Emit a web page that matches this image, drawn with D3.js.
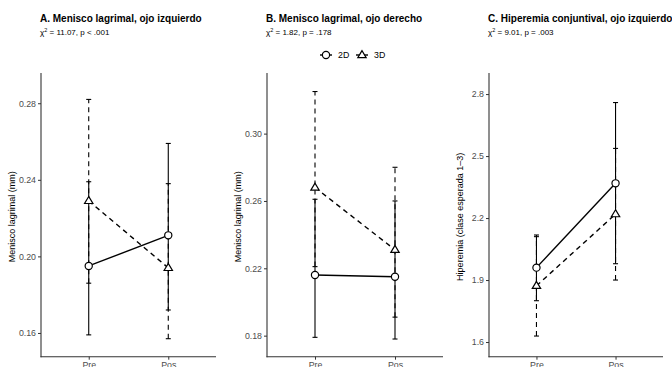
<!DOCTYPE html>
<html><head><meta charset="utf-8">
<script src="https://cdn.jsdelivr.net/npm/d3@7"></script>
<style>
body{margin:0;background:#fff;}
svg{display:block;font-family:"Liberation Sans",Arial,sans-serif;}
</style></head>
<body><svg id="chart" width="672" height="367"></svg>
<script>
const timepoints = ["Pre", "Pos"];
const groups = ["2D", "3D"];
const panelTitles = ["A. Menisco lagrimal, ojo izquierdo", "B. Menisco lagrimal, ojo derecho", "C. Hiperemia conjuntival, ojo izquierdo"];
const chiValues = ["11.07", "1.82", "9.01"];
const pValues = ["p < .001", "p = .178", "p = .003"];
const yTitles = ["Menisco lagrimal (mm)", "Menisco lagrimal (mm)", "Hiperemia (clase esperada 1\u20133)"];
const yTicksA = [0.16, 0.20, 0.24, 0.28];
const yTicksB = [0.18, 0.22, 0.26, 0.30];
const yTicksC = [1.6, 1.9, 2.2, 2.5, 2.8];
const yDomainA = [0.1476, 0.2958];
const yDomainB = [0.1675, 0.336];
const yDomainC = [1.529, 2.902];

// Panel A
const meanA2D = [0.195, 0.211], lowA2D = [0.159, 0.172], highA2D = [0.239, 0.259];
const meanA3D = [0.229, 0.194], lowA3D = [0.186, 0.157], highA3D = [0.282, 0.238];
// Panel B
const meanB2D = [0.216, 0.215], lowB2D = [0.179, 0.178], highB2D = [0.261, 0.260];
const meanB3D = [0.268, 0.231], lowB3D = [0.221, 0.191], highB3D = [0.325, 0.280];
// Panel C
const meanC2D = [1.960, 2.368], lowC2D = [1.800, 1.979], highC2D = [2.118, 2.759];
const meanC3D = [1.872, 2.219], lowC3D = [1.629, 1.900], highC3D = [2.110, 2.537];

const panels = [
  {x0: 41, x1: 216, ticks: yTicksA, dom: yDomainA, fmt: d3.format(".2f"),
   series: [{g: "2D", mean: meanA2D, low: lowA2D, high: highA2D}, {g: "3D", mean: meanA3D, low: lowA3D, high: highA3D}]},
  {x0: 267, x1: 443, ticks: yTicksB, dom: yDomainB, fmt: d3.format(".2f"),
   series: [{g: "2D", mean: meanB2D, low: lowB2D, high: highB2D}, {g: "3D", mean: meanB3D, low: lowB3D, high: highB3D}]},
  {x0: 489, x1: 663, ticks: yTicksC, dom: yDomainC, fmt: d3.format(".1f"),
   series: [{g: "2D", mean: meanC2D, low: lowC2D, high: highC2D}, {g: "3D", mean: meanC3D, low: lowC3D, high: highC3D}]}
];

const svg = d3.select("#chart");
const yTop = 73, yBot = 356.7;
const dashFor = g => g === "3D" ? "5,4" : null;

function drawShape(sel, g, cx, cy) {
  if (g === "2D") {
    sel.append("circle").attr("cx", cx).attr("cy", cy).attr("r", 3.6)
      .attr("fill", "#fff").attr("stroke", "#000").attr("stroke-width", 1.2);
  } else {
    const s = 4.4;
    const pts = [[cx, cy - s], [cx - s * 0.95, cy + s * 0.6], [cx + s * 0.95, cy + s * 0.6]];
    sel.append("path").attr("d", "M" + pts.map(p => p.join(",")).join("L") + "Z")
      .attr("fill", "#fff").attr("stroke", "#000").attr("stroke-width", 1.2);
  }
}

panels.forEach((p, i) => {
  const g = svg.append("g");
  const x = d3.scalePoint().domain(timepoints).range([p.x0, p.x1]).padding(0.6);
  const y = d3.scaleLinear().domain(p.dom).range([yBot, yTop]);

  // title & subtitle
  g.append("text").attr("x", p.x0 - 1).attr("y", 22).attr("font-weight", "bold")
    .attr("font-size", 10).attr("fill", "#000").text(panelTitles[i]);
  const st = g.append("text").attr("x", p.x0 - 1).attr("y", 35).attr("font-size", 8).attr("fill", "#000");
  st.append("tspan").text("\u03c7");
  st.append("tspan").attr("dy", -3).attr("font-size", 5.5).text("2");
  st.append("tspan").attr("dy", 3).text(" = " + chiValues[i] + ", " + pValues[i]);

  // axes
  const yAxis = d3.axisLeft(y).tickValues(p.ticks).tickFormat(p.fmt).tickSize(3).tickPadding(2);
  const ya = g.append("g").attr("transform", `translate(${p.x0},0)`).call(yAxis);
  ya.select(".domain").remove();
  ya.selectAll(".tick line").attr("stroke", "#333");
  ya.selectAll(".tick text").attr("fill", "#4d4d4d").attr("font-size", 8.8).attr("font-family", "Liberation Sans, Arial, sans-serif");
  const xAxis = d3.axisBottom(x).tickSize(3).tickPadding(2);
  const xa = g.append("g").attr("transform", `translate(0,${yBot})`).call(xAxis);
  xa.select(".domain").remove();
  xa.selectAll(".tick line").attr("stroke", "#333");
  xa.selectAll(".tick text").attr("fill", "#4d4d4d").attr("font-size", 8.8).attr("font-family", "Liberation Sans, Arial, sans-serif");
  g.append("line").attr("x1", p.x0).attr("x2", p.x0).attr("y1", yTop).attr("y2", yBot + 0.5)
    .attr("stroke", "#333").attr("stroke-width", 1.1);
  g.append("line").attr("x1", p.x0 - 0.5).attr("x2", p.x1).attr("y1", yBot).attr("y2", yBot)
    .attr("stroke", "#333").attr("stroke-width", 1.1);

  // y title
  g.append("text").attr("transform", `translate(${p.x0 - 26},${(yTop + yBot) / 2 + 2}) rotate(-90)`)
    .attr("text-anchor", "middle").attr("font-size", 9).attr("fill", "#000").text(yTitles[i]);

  // error bars
  p.series.forEach(s => {
    timepoints.forEach((t, j) => {
      const cx = x(t);
      g.append("line").attr("x1", cx).attr("x2", cx).attr("y1", y(s.low[j])).attr("y2", y(s.high[j]))
        .attr("stroke", "#000").attr("stroke-width", 1.1).attr("stroke-dasharray", dashFor(s.g));
      [s.low[j], s.high[j]].forEach(v => {
        g.append("line").attr("x1", cx - 2.5).attr("x2", cx + 2.5).attr("y1", y(v)).attr("y2", y(v))
          .attr("stroke", "#000").attr("stroke-width", 1.1);
      });
    });
  });
  // lines
  p.series.forEach(s => {
    const line = d3.line().x((d, j) => x(timepoints[j])).y(d => y(d));
    g.append("path").datum(s.mean).attr("d", line).attr("fill", "none").attr("stroke", "#000")
      .attr("stroke-width", 1.4).attr("stroke-dasharray", dashFor(s.g));
  });
  // points
  p.series.forEach(s => {
    s.mean.forEach((v, j) => drawShape(g, s.g, x(timepoints[j]), y(v)));
  });
});

// legend
const lg = svg.append("g");
const legX = [326, 362];
groups.forEach((gname, k) => {
  const cx = legX[k], cy = 55;
  lg.append("line").attr("x1", cx - 6).attr("x2", cx + 6).attr("y1", cy).attr("y2", cy)
    .attr("stroke", "#000").attr("stroke-width", 1.4);
  drawShape(lg, gname, cx, cy);
  lg.append("text").attr("x", cx + 12).attr("y", cy + 3.2).attr("font-size", 8.8).attr("fill", "#000").text(gname);
});
</script></body></html>
